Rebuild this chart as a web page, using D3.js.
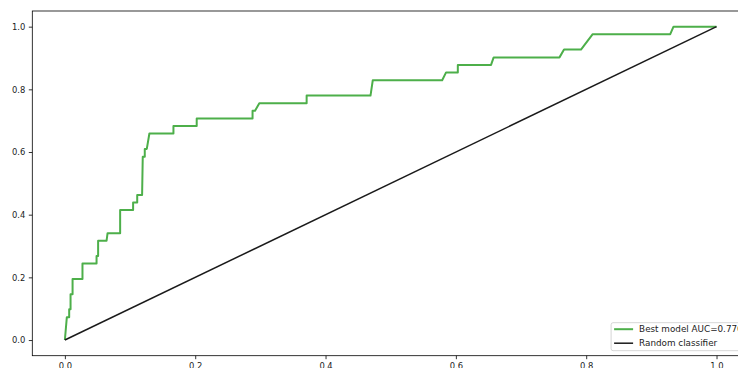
<!DOCTYPE html>
<html>
<head>
<meta charset="utf-8">
<script src="https://cdn.jsdelivr.net/npm/d3@7"></script>
<style>
  html, body { margin: 0; padding: 0; background: #fff; }
  svg { display: block; }
  text { font-family: "DejaVu Sans", sans-serif; }
</style>
</head>
<body>
<svg id="chart" width="738" height="368"></svg>
<script>
// ROC curve of the best model (false positive rate / true positive rate)
const fpr = [0, 0.003, 0.0066, 0.0066, 0.0087, 0.0087, 0.0118, 0.0118, 0.027, 0.027,
  0.0486, 0.0486, 0.051, 0.051, 0.064, 0.0655, 0.0848, 0.0848, 0.1047, 0.1047,
  0.111, 0.111, 0.1185, 0.1195, 0.1226, 0.1226, 0.1257, 0.1297, 0.1666, 0.1666,
  0.2023, 0.2023, 0.288, 0.288, 0.2918, 0.2984, 0.371, 0.371, 0.469, 0.4725,
  0.579, 0.585, 0.603, 0.603, 0.654, 0.658, 0.759, 0.766, 0.792, 0.810,
  0.929, 0.934, 1.0];
const tpr = [0, 0.073, 0.073, 0.098, 0.098, 0.146, 0.146, 0.195, 0.195, 0.244,
  0.244, 0.268, 0.268, 0.317, 0.317, 0.341, 0.341, 0.415, 0.415, 0.439,
  0.439, 0.463, 0.463, 0.585, 0.585, 0.610, 0.610, 0.659, 0.659, 0.683,
  0.683, 0.707, 0.707, 0.732, 0.732, 0.756, 0.756, 0.780, 0.780, 0.829,
  0.829, 0.854, 0.854, 0.878, 0.878, 0.902, 0.902, 0.927, 0.927, 0.976,
  0.976, 1.0, 1.0];
// Random classifier diagonal
const randFpr = [0, 1];
const randTpr = [0, 1];

const xTicks = [0.0, 0.2, 0.4, 0.6, 0.8, 1.0];
const yTicks = [0.0, 0.2, 0.4, 0.6, 0.8, 1.0];
const legendLabels = ["Best model AUC=0.776", "Random classifier"];
const seriesColors = ["#4daf4a", "#1a1a1a"];

(function () {
const svg = d3.select("#chart");
const mLeft = 32.3, mRight = 749.1, mTop = 11, mBottom = 355.7;
const fontPx = "8.4px";
const legendFontPx = "8.8px";

const x = d3.scaleLinear().domain([-0.05, 1.05]).range([mLeft, mRight]);
const y = d3.scaleLinear().domain([-0.05, 1.05]).range([mBottom, mTop]);

svg.append("defs").append("clipPath").attr("id", "plotclip")
  .append("rect").attr("x", mLeft).attr("y", mTop).attr("width", mRight - mLeft).attr("height", mBottom - mTop);

const plot = svg.append("g").attr("clip-path", "url(#plotclip)");

const line = d3.line().x(d => x(d[0])).y(d => y(d[1]));

plot.append("path")
  .datum(fpr.map((f, i) => [f, tpr[i]]))
  .attr("d", line)
  .attr("fill", "none")
  .attr("stroke", seriesColors[0])
  .attr("stroke-width", 2)
  .attr("stroke-linejoin", "round");

plot.append("path")
  .datum(randFpr.map((f, i) => [f, randTpr[i]]))
  .attr("d", line)
  .attr("fill", "none")
  .attr("stroke", seriesColors[1])
  .attr("stroke-width", 1.5);

// Axes
const xAxis = d3.axisBottom(x).tickValues(xTicks).tickFormat(d3.format(".1f"))
  .tickSize(3.5).tickPadding(3.5);
const yAxis = d3.axisLeft(y).tickValues(yTicks).tickFormat(d3.format(".1f"))
  .tickSize(3.5).tickPadding(3.5);

const gx = svg.append("g").attr("transform", `translate(0,${mBottom})`).call(xAxis);
const gy = svg.append("g").attr("transform", `translate(${mLeft},0)`).call(yAxis);
[gx, gy].forEach(g => {
  g.select(".domain").remove();
  g.selectAll(".tick line").attr("stroke", "#000").attr("stroke-width", 0.8);
  g.selectAll(".tick text").attr("fill", "#222").style("font-size", fontPx)
    .style("font-family", "'DejaVu Sans', sans-serif");
});
gx.selectAll(".tick text").attr("dy", "0.78em");

// Spines
svg.append("rect")
  .attr("x", mLeft).attr("y", mTop)
  .attr("width", mRight - mLeft).attr("height", mBottom - mTop)
  .attr("fill", "none").attr("stroke", "#000").attr("stroke-width", 0.8);

// Legend (lower right)
const lgW = 133, lgH = 28;
const lgX = mRight - 5 - lgW, lgY = mBottom - 5 - lgH;
const lg = svg.append("g");
lg.append("rect").attr("x", lgX).attr("y", lgY).attr("width", lgW).attr("height", lgH)
  .attr("rx", 2).attr("fill", "#fff").attr("fill-opacity", 0.8)
  .attr("stroke", "#cccccc").attr("stroke-width", 0.8);
legendLabels.forEach((lab, i) => {
  const cy = lgY + 6.5 + i * 14;
  lg.append("line").attr("x1", lgX + 3).attr("x2", lgX + 22).attr("y1", cy).attr("y2", cy)
    .attr("stroke", seriesColors[i]).attr("stroke-width", i === 0 ? 2 : 1.5);
  lg.append("text").attr("x", lgX + 28).attr("y", cy).attr("dy", "0.35em")
    .style("font-size", legendFontPx).attr("fill", "#222").text(lab);
});
})();
</script>
</body>
</html>
